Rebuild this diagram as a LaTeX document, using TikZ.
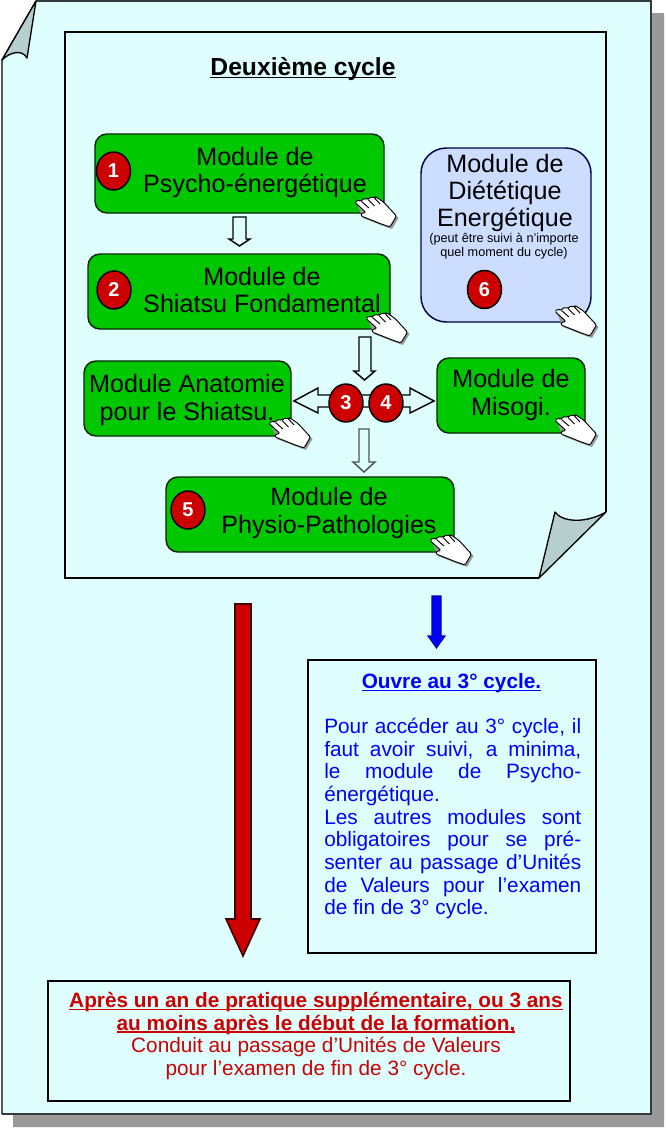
\documentclass[tikz,border=0pt]{standalone}
\usepackage{fontspec}
\setmainfont{Liberation Sans}
\usetikzlibrary{shapes.geometric}
\definecolor{pagebg}{HTML}{DFFFFF}
\definecolor{foldc}{HTML}{B8CFCF}
\definecolor{shade}{HTML}{999999}
\definecolor{modgreen}{HTML}{00C800}
\definecolor{modblue}{HTML}{CCDDFF}
\definecolor{redc}{HTML}{CC0000}
\definecolor{darkline}{HTML}{333B3B}
\newcommand\ulx[1]{\setbox0=\hbox{#1}\rlap{\rule[-2pt]{\wd0}{1.1pt}}\box0}
\tikzset{
  x=0.75pt,y=-0.75pt,
  modbox/.style={draw=black!85!green,line width=1.1pt,fill=modgreen,rounded corners=9pt,inner sep=0pt},
  modtxt/.style={align=center,inner sep=0pt,font=\fontsize{18.85}{20.6}\selectfont},
  badge/.style={ellipse,draw=black,line width=1.1pt,fill=redc,text=white,inner sep=0pt,minimum width=25.5pt,minimum height=28.5pt,font=\fontsize{15}{16}\selectfont\bfseries},
  blockarrow/.style={draw=black,line width=1.1pt,fill=pagebg,line join=miter},
  handpic/.pic={
    \path[fill=shade] (2,8.5) -- (20,2.5) -- (31,8.5) -- (43.5,22) -- (37,33) -- (27,29.5) -- (8,22) -- cycle;
    \path[draw=black,line width=0.7pt,fill=white,line join=round,rounded corners=1pt] (0,6.5) -- (3,4) -- (6.5,5.5) -- (7.5,3) -- (10,2.5) -- (13,3.5) -- (14,2) -- (17,1) -- (19.5,2) -- (20.5,0.6) -- (24,3) -- (29,6.5) -- (41.5,20) -- (35,31) -- (25,27.5) -- (15,23.5) -- (6,20) -- (6,17.5) -- (11,16.5) -- cycle;
    \draw[line width=0.7pt] (6.5,5.5) -- (14,12) (13,3.5) -- (19.5,10) (19.5,2) -- (25,8);
  }
}
\begin{document}
\begin{tikzpicture}
\useasboundingbox (0,0) rectangle (665,1128);
% shadow of the sheet
\path[fill=shade] (651,13) -- (664,13) -- (664,1127) -- (13,1127) -- (13,1114) -- (651,1114) -- cycle;
% sheet
\path[fill=pagebg] (36,1) -- (651,1) -- (651,1114) -- (2,1114) -- (2,60) -- cycle;
\draw[darkline,line width=1.5pt] (36,1) -- (651,1) -- (651,1114) -- (2,1114);
\draw[black,line width=1pt] (2,1114) -- (2,60) -- (36,1);
\draw[black,line width=1pt,fill=foldc,line join=round] (2,60) .. controls (10,52) and (22,49) .. (27,58) -- (36,1) -- cycle;
% inner sheet
\draw[black,line width=1pt] (606,512) -- (606,32) -- (65,32) -- (65,578) -- (539,578);
\draw[black,line width=1pt,fill=foldc,line join=round] (539,578) -- (555,512) .. controls (562,522) and (585,524) .. (606,512) -- cycle;
% title
\node[inner sep=0pt,font=\fontsize{18.5}{20}\selectfont\bfseries] (title) at (303,69) {\ulx{Deuxième cycle}};
% module boxes
\node[modbox,minimum width=216.75pt,minimum height=59.25pt] (m1) at (239.5,173.5) {};
\node[modbox,minimum width=226.5pt,minimum height=56.25pt] (m2) at (239,291.5) {};
\node[modbox,minimum width=155.25pt,minimum height=56.25pt] (m3) at (187.5,398.5) {};
\node[modbox,minimum width=111pt,minimum height=56.25pt] (m4) at (511,395.5) {};
\node[modbox,minimum width=216pt,minimum height=56.25pt] (m5) at (310,514.5) {};
\node[modbox,fill=modblue,draw=black!70!blue,rounded corners=19pt,minimum width=127.5pt,minimum height=130.5pt] (m6) at (506,235) {};
% module texts
\node[modtxt] (t1) at (255,172.5) {Module de\\Psycho-énergétique};
\node[modtxt] (t2) at (262,290) {Module de\\Shiatsu Fondamental};
\node[modtxt] (t3) at (187,400) {Module Anatomie\\pour le Shiatsu.};
\node[modtxt] (t4) at (511,395) {Module de\\Misogi.};
\node[modtxt] (t5) at (329,513) {Module de\\Physio-Pathologies};
\node[modtxt] (t6) at (505,193) {Module de\\Diététique\\Energétique};
\node[inner sep=0pt,align=center,font=\fontsize{9.5}{10.5}\selectfont] (t6b) at (504,246.5) {(peut être suivi à n’importe\\quel moment du cycle)};
% block arrows
\draw[blockarrow] (233,217) -- (246,217) -- (246,239) -- (250,239) -- (239.5,246) -- (229,239) -- (233,239) -- cycle;
\draw[blockarrow] (359,337) -- (371,337) -- (371,371) -- (375,371) -- (364.5,380) -- (354,371) -- (359,371) -- cycle;
\draw[blockarrow,draw=black!60!foldc] (359,429) -- (369,429) -- (369,462) -- (375,462) -- (364,472) -- (353,462) -- (359,462) -- cycle;
\draw[blockarrow] (294,401) -- (318,388) -- (318,395) -- (410,395) -- (410,388) -- (434,401) -- (410,413) -- (410,407) -- (318,407) -- (318,413) -- cycle;
\draw[line width=1.2pt,fill=redc,draw=black!70!redc,line join=miter] (235,604) -- (251,604) -- (251,919) -- (260,919) -- (243,956) -- (226,919) -- (235,919) -- cycle;
\draw[line width=0.8pt,fill=blue,draw=blue!70!black,line join=miter] (432,596) -- (441,596) -- (441,636) -- (445,636) -- (436.5,648) -- (428,636) -- (432,636) -- cycle;
% badges
\node[badge] (b1) at (113.5,171) {1};
\node[badge] (b2) at (114,290) {2};
\node[badge] (b3) at (346,403) {3};
\node[badge] (b4) at (386,403) {4};
\node[badge] (b5) at (188,510) {5};
\node[badge] (b6) at (484.5,289.5) {6};
% hands
\pic at (355,196) {handpic};
\pic at (366,312) {handpic};
\pic at (269,417) {handpic};
\pic at (555,414) {handpic};
\pic at (430,534) {handpic};
\pic at (555,305) {handpic};
% information boxes
\node[draw=black,line width=1.1pt,minimum width=216pt,minimum height=219.75pt,inner sep=0pt] (open) at (452,806.5) {};
\node[inner sep=0pt,text=blue,font=\fontsize{15.6}{17}\selectfont\bfseries] (opent) at (451.5,683) {\ulx{Ouvre au 3° cycle.}};
\node[anchor=north west,inner sep=0pt,text=blue,text width=192.75pt,align=justify,font=\fontsize{15.6}{17}\selectfont] (openb) at (324,718) {Pour accéder au 3° cycle, il\linebreak faut avoir suivi, a minima,\linebreak le module de Psycho-\linebreak énergétique.\\Les autres modules sont\linebreak obligatoires pour se pré-\linebreak senter au passage d’Unités\linebreak de Valeurs pour l’examen\linebreak de fin de 3° cycle.};
\node[draw=black,line width=1.5pt,minimum width=391.5pt,minimum height=90pt,inner sep=0pt] (final) at (309,1041) {};
\node[inner sep=0pt,text=redc,align=center,font=\fontsize{15.6}{16.9}\selectfont] (finalt) at (316,1036) {\textbf{\ulx{Après un an de pratique supplémentaire, ou 3 ans}}\\\textbf{\ulx{au moins après le début de la formation,}}\\Conduit au passage d’Unités de Valeurs\\pour l’examen de fin de 3° cycle.};
\end{tikzpicture}
\end{document}
